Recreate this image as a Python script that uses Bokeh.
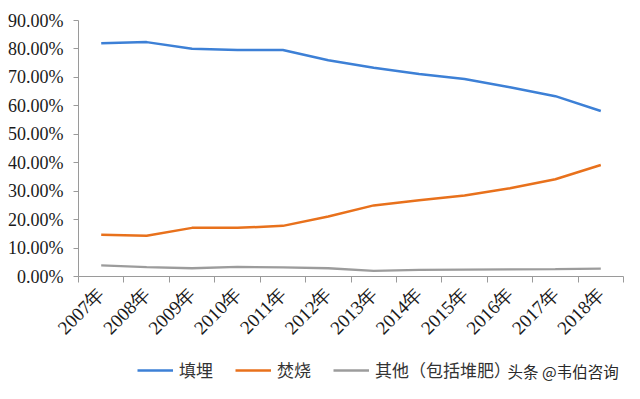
from bokeh.plotting import figure
from bokeh.models import (ColumnDataSource, FixedTicker, NumeralTickFormatter, Range1d,
                          Legend, LegendItem, Label)
from bokeh.embed import file_html
from bokeh.resources import INLINE
from math import pi

years = ["2007年", "2008年", "2009年", "2010年", "2011年", "2012年",
         "2013年", "2014年", "2015年", "2016年", "2017年", "2018年"]
landfill = [0.820, 0.824, 0.801, 0.796, 0.796, 0.760, 0.734, 0.712, 0.694, 0.665, 0.634, 0.582]
incineration = [0.147, 0.143, 0.171, 0.171, 0.178, 0.211, 0.250, 0.268, 0.285, 0.310, 0.342, 0.392]
other = [0.039, 0.033, 0.029, 0.034, 0.032, 0.029, 0.020, 0.023, 0.024, 0.025, 0.026, 0.028]
series_names = ["填埋", "焚烧", "其他（包括堆肥）"]
y_ticks = [0.0, 0.1, 0.2, 0.3, 0.4, 0.5, 0.6, 0.7, 0.8, 0.9]

idx = list(range(len(years)))
src = ColumnDataSource(dict(x=idx, landfill=landfill, incineration=incineration, other=other))

# pixel geometry of the plot area inside a full-canvas frame
W, H = 624, 383
left_px, right_px, top_px, zero_px = 78, 623, 20, 276
y_max_tick = 0.9
n = len(years)
xs = (right_px - left_px) / n                 # px per category
x_min = -0.5 - left_px / xs
x_max = (n - 0.5) + (W - right_px) / xs
ys = (zero_px - top_px) / y_max_tick           # px per unit
y_max = y_max_tick + top_px / ys
y_min = -(H - zero_px) / ys

p = figure(width=W, height=H, output_backend="svg", toolbar_location=None,
           x_range=Range1d(x_min, x_max), y_range=Range1d(y_min, y_max),
           min_border_left=0, min_border_right=0, min_border_top=0, min_border_bottom=0)
p.outline_line_color = None
p.xgrid.visible = False
p.ygrid.visible = False
p.background_fill_color = "white"
p.border_fill_color = "white"

colors = ["#3d80d6", "#e8711c", "#9c9c9c"]
r1 = p.line("x", "landfill", source=src, line_color=colors[0], line_width=2.5)
r2 = p.line("x", "incineration", source=src, line_color=colors[1], line_width=2.5)
r3 = p.line("x", "other", source=src, line_color=colors[2], line_width=2.3)

font = "'Liberation Serif', 'Times New Roman', serif"
axis_col = "#9a9a9a"
# x axis drawn at y = 0
xa = p.xaxis[0]
xa.fixed_location = 0
xa.bounds = (-0.5, n - 0.5)
xa.ticker = FixedTicker(ticks=idx, minor_ticks=[i - 0.5 for i in range(n + 1)])
xa.major_label_overrides = {i: y for i, y in enumerate(years)}
xa.major_label_orientation = pi / 4
xa.major_tick_out = 0
xa.major_tick_in = 0
xa.minor_tick_out = 6
xa.minor_tick_in = 0
xa.minor_tick_line_color = axis_col
xa.axis_line_color = axis_col
xa.major_label_text_font = font
xa.major_label_text_font_size = "19px"
xa.major_label_text_color = "#1a1a1a"
xa.major_label_standoff = 8

# y axis drawn at the left category boundary
ya = p.yaxis[0]
ya.fixed_location = -0.5
ya.bounds = (0, y_max_tick)
ya.ticker = FixedTicker(ticks=y_ticks)
ya.formatter = NumeralTickFormatter(format="0.00%")
ya.major_tick_out = 5
ya.major_tick_in = 0
ya.minor_tick_line_color = None
ya.major_tick_line_color = axis_col
ya.axis_line_color = axis_col
ya.major_label_text_font = font
ya.major_label_text_font_size = "18px"
ya.major_label_text_color = "#1a1a1a"
ya.major_label_standoff = 10

legend = Legend(items=[LegendItem(label=series_names[0], renderers=[r1]),
                       LegendItem(label=series_names[1], renderers=[r2]),
                       LegendItem(label=series_names[2], renderers=[r3])],
                orientation="horizontal", location=(137, 1),
                padding=0, margin=0, spacing=22, glyph_width=36, label_standoff=6,
                border_line_alpha=0, background_fill_alpha=0,
                label_text_font="Noto Sans CJK SC", label_text_font_size="17px",
                label_text_color="#333333")
p.add_layout(legend)

wm = Label(x=507, y=2, x_units="screen", y_units="screen", text="头条 @韦伯咨询",
           text_font="Noto Sans CJK SC", text_font_size="15.5px", text_color="#2a2a2a")
p.add_layout(wm)

open("out.html", "w").write(file_html(p, INLINE))
